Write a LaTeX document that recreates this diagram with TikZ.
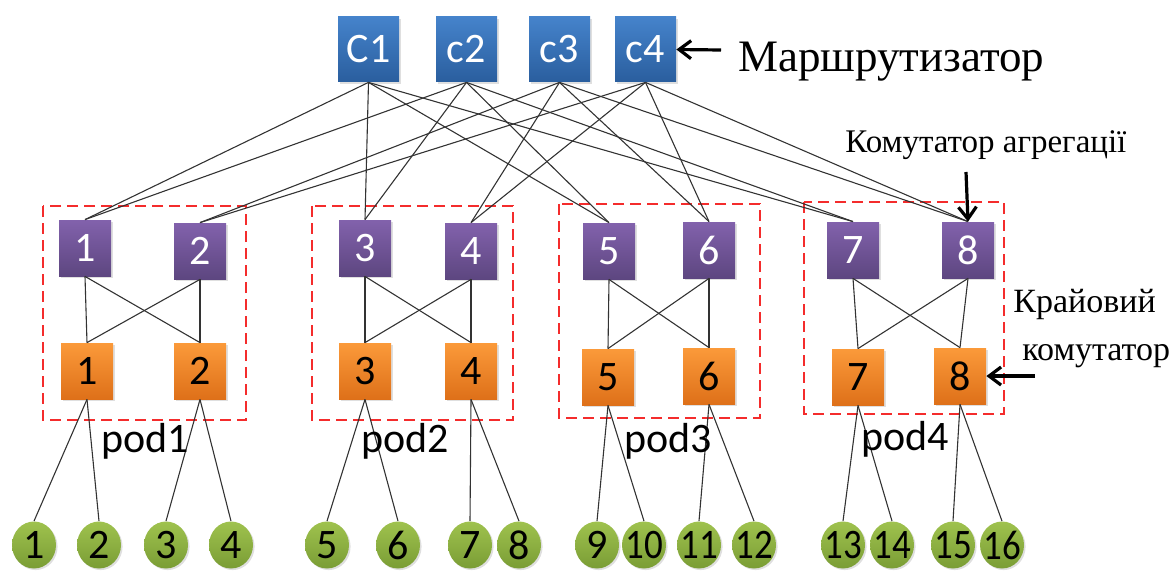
\documentclass[tikz,border=0pt]{standalone}
\usepackage{fontspec}
\setmainfont{Liberation Serif}
\newfontfamily\numfont{Carlito}
\usetikzlibrary{shapes.geometric,shadows,arrows.meta}
\definecolor{coreT}{HTML}{4583CB}
\definecolor{coreB}{HTML}{2A5E9E}
\definecolor{aggT}{HTML}{8262AC}
\definecolor{aggB}{HTML}{5D4680}
\definecolor{edgT}{HTML}{FB9A3A}
\definecolor{edgB}{HTML}{DE7019}
\definecolor{lfT}{HTML}{9FC24E}
\definecolor{lfB}{HTML}{7A9D35}
\definecolor{podred}{HTML}{F42C2C}
\tikzset{
  box/.style={rectangle, inner sep=0pt, minimum width=26pt, minimum height=28pt,
    font=\numfont\fontsize{21}{21}\selectfont,
    drop shadow={opacity=0.25, shadow xshift=0.8pt, shadow yshift=-0.8pt}},
  coresw/.style={box, minimum width=30.5pt, minimum height=32.5pt, top color=coreT, bottom color=coreB, text=white},
  aggsw/.style={box, top color=aggT, bottom color=aggB, text=white},
  edgesw/.style={box, top color=edgT, bottom color=edgB, text=black},
  leaf/.style={ellipse, inner xsep=-3pt, inner ysep=0pt, minimum width=22pt, minimum height=23.5pt,
    top color=lfT, bottom color=lfB, text=black,
    font=\numfont\fontsize{21}{21}\selectfont,
    drop shadow={opacity=0.25, shadow xshift=0.8pt, shadow yshift=-0.8pt}},
  link/.style={draw=black!80, line width=0.55pt},
  podbox/.style={draw=podred, dash pattern=on 5.5pt off 3pt, line width=1.1pt},
  podlbl/.style={anchor=center, inner sep=0pt, font=\numfont\fontsize{21}{21}\selectfont},
  callout/.style={-{Straight Barb[length=6pt,width=9pt]}, line width=1.6pt},
  lbl/.style={anchor=base west, inner sep=0pt}
}
\begin{document}
\begin{tikzpicture}[x=0.5pt,y=-0.5pt]
\useasboundingbox (0,0) rectangle (1176,572);
% pods
\draw[podbox] (43,206) rectangle (246,420);
\draw[podbox] (312,206) rectangle (513,420);
\draw[podbox] (559,204) rectangle (760,418);
\draw[podbox] (804,202) rectangle (1004,414);
% core
\node[coresw] (c1) at (368.5,49.5) {C1};
\node[coresw] (c2) at (466.5,49.5) {c2};
\node[coresw] (c3) at (559.5,49.5) {c3};
\node[coresw] (c4) at (645.5,49.5) {c4};
% aggregation
\node[aggsw] (a1) at (85,248) {1};
\node[aggsw] (a2) at (200,251) {2};
\node[aggsw] (a3) at (365,248) {3};
\node[aggsw] (a4) at (471,251) {4};
\node[aggsw] (a5) at (609,251) {5};
\node[aggsw] (a6) at (709,250) {6};
\node[aggsw] (a7) at (853,250) {7};
\node[aggsw] (a8) at (968,250) {8};
% edge
\node[edgesw] (e1) at (87,371) {1};
\node[edgesw] (e2) at (200,371) {2};
\node[edgesw] (e3) at (365,371) {3};
\node[edgesw] (e4) at (471,371) {4};
\node[edgesw] (e5) at (608,377) {5};
\node[edgesw] (e6) at (709,376) {6};
\node[edgesw] (e7) at (858,377) {7};
\node[edgesw] (e8) at (960,376) {8};
% leaves
\foreach \i/\x in {1/34,2/99,3/166,4/231,5/327,6/398,7/470,8/519,9/597}
  \node[leaf] (h\i) at (\x,545) {\i};
\foreach \i/\x in {10/644,11/699,12/754,13/843,14/892,15/953,16/1002}
  \node[leaf] (h\i) at (\x,545) {\scalebox{0.88}[1]{\i}};
% core - aggregation
\foreach \c in {c1,c2} \foreach \a in {a1,a3,a5,a7} \draw[link] (\c.south) -- (\a.north);
\foreach \c in {c3,c4} \foreach \a in {a2,a4,a6,a8} \draw[link] (\c.south) -- (\a.north);
% aggregation - edge
\foreach \p/\q in {1/2,3/4,5/6,7/8} {
  \draw[link] (a\p.south) -- (e\p.north);
  \draw[link] (a\p.south) -- (e\q.north);
  \draw[link] (a\q.south) -- (e\p.north);
  \draw[link] (a\q.south) -- (e\q.north);
}
% edge - hosts
\foreach \e/\h/\k in {1/1/2,2/3/4,3/5/6,4/7/8,5/9/10,6/11/12,7/13/14,8/15/16} {
  \draw[link] (e\e.south) -- (h\h.north);
  \draw[link] (e\e.south) -- (h\k.north);
}
% pod labels
\node[podlbl] (p1) at (145,441) {pod1};
\node[podlbl] (p2) at (405,441) {pod2};
\node[podlbl] (p3) at (668,441) {pod3};
\node[podlbl] (p4) at (905,439) {pod4};
% callouts
\node[lbl, font=\fontsize{22.5}{22.5}\selectfont] (rt) at (738,72) {Маршрутизатор};
\coordinate (rtA) at (721,50);
\draw[callout] (rtA) -- (c4.east);
\node[lbl, font=\fontsize{16.5}{16.5}\selectfont] (ag) at (845,153) {Комутатор агрегації};
\coordinate (agA) at (966,172);
\draw[callout] (agA) -- (a8.north);
\node[lbl, font=\fontsize{17}{17}\selectfont] (kr1) at (1013,312) {Крайовий};
\node[lbl, font=\fontsize{17}{17}\selectfont] (kr2) at (1022,360) {комутатор};
\coordinate (krA) at (1035,376);
\draw[callout] (krA) -- (e8.east);
\end{tikzpicture}
\end{document}
